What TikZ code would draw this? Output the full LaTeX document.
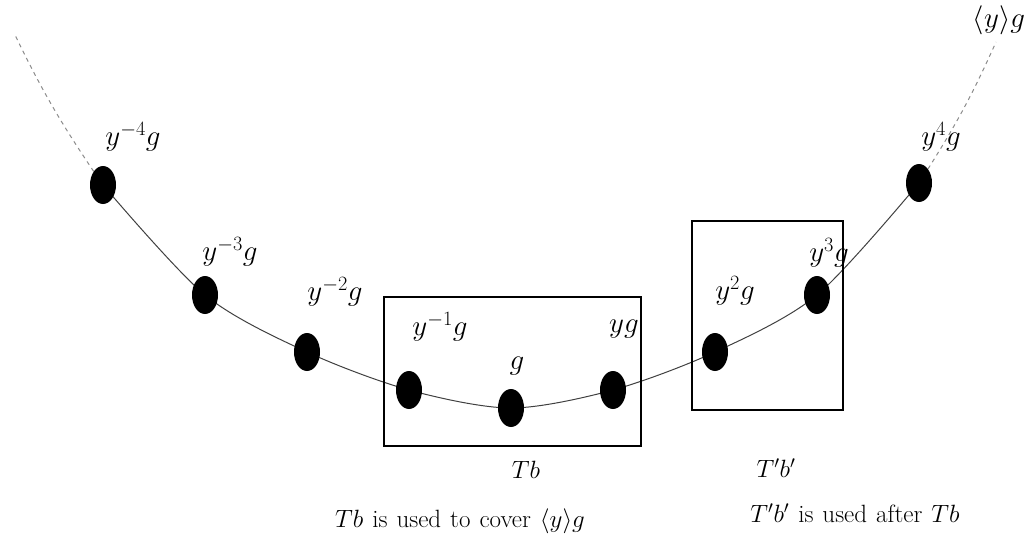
\RequirePackage{fix-cm}
\documentclass[tikz,border=0pt]{standalone}
\usetikzlibrary{shapes.geometric,backgrounds}
\newcommand\mycapfont{\fontsize{25}{29}\selectfont\spaceskip=9pt plus 2pt\relax}
\begin{document}
\begin{tikzpicture}[x=1pt,y=-1pt,
  dot/.style={ellipse,fill=black,inner sep=0pt,minimum width=26pt,minimum height=38pt},
  lbl/.style={inner sep=1pt,font=\fontsize{29}{32}\selectfont},
  txt/.style={inner sep=1pt,font=\fontsize{25}{28}\selectfont},
  captxt/.style={inner sep=1pt,font=\mycapfont},
  boxr/.style={draw=black,line width=2pt},
  curve/.style={draw=black!75,line width=1pt},
  dcurve/.style={draw=black!45,line width=1pt,dashed,dash pattern=on 4pt off 4pt}]
\useasboundingbox (0,0) rectangle (1026,543);
% points
\node[dot] (m4) at (103,185) {};
\node[dot] (m3) at (205,295) {};
\node[dot] (m2) at (307,352) {};
\node[dot] (m1) at (409,390) {};
\node[dot] (g0) at (511,408) {};
\node[dot] (p1) at (613,390) {};
\node[dot] (p2) at (715,352) {};
\node[dot] (p3) at (817,295) {};
\node[dot] (p4) at (919,183) {};
\coordinate (e1) at (15,35);
\coordinate (e2) at (996,42);
% curve
\begin{scope}[on background layer]
\draw[curve] plot[smooth,tension=0.5] coordinates {(m4) (m3) (m2) (m1) (g0) (p1) (p2) (p3) (p4)};
\draw[dcurve] (m4) to[bend left=4] (e1);
\draw[dcurve] (p4) to[bend right=4] (e2);
\end{scope}
% labels
\node[lbl] (lm4) at (133,137) {$y^{-4}g$};
\node[lbl] (lm3) at (230,252) {$y^{-3}g$};
\node[lbl] (lm2) at (335,292) {$y^{-2}g$};
\node[lbl] (lm1) at (440,327) {$y^{-1}g$};
\node[lbl] (lg0) at (517,366) {$g$};
\node[lbl] (lp1) at (624,329) {$yg$};
\node[lbl] (lp2) at (735,291) {$y^{2}g$};
\node[lbl] (lp3) at (829,253) {$y^{3}g$};
\node[lbl] (lp4) at (941,137) {$y^{4}g$};
\node[lbl] (lyg) at (999,20) {$\langle y\rangle g$};
% boxes
\node[boxr,minimum width=257pt,minimum height=149pt,inner sep=0pt] (Tb) at (512.5,371.5) {};
\node[boxr,minimum width=151pt,minimum height=189pt,inner sep=0pt] (Tbp) at (767.5,315.5) {};
% captions
\node[txt] (cTb) at (526,470) {$Tb$};
\node[txt] (cTbp) at (776,468) {$T'b'$};
\node[captxt] (uTb) at (460,521) {$Tb$ is used to cover $\langle y\rangle g$};
\node[captxt] (uTbp) at (855,513) {$T'b'$ is used after $Tb$};
\end{tikzpicture}
\end{document}
